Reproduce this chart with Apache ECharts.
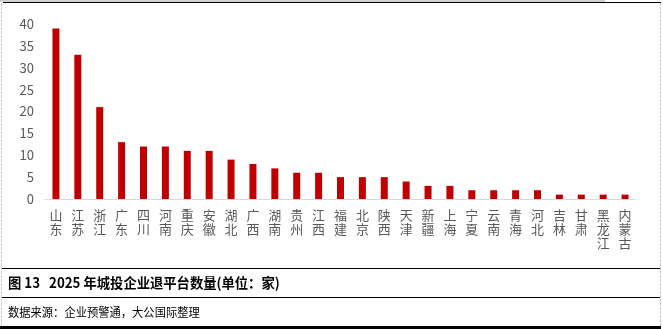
<!DOCTYPE html>
<html>
<head>
<meta charset="utf-8">
<script src="https://cdn.jsdelivr.net/npm/echarts@6/dist/echarts.min.js"></script>
<style>
  html, body { margin: 0; padding: 0; background: #fff; }
  #chart { width: 663px; height: 329px; }
</style>
</head>
<body>
<div id="chart"></div>
<script>
// Provinces and the number of urban-investment firms that exited platform status in 2025
const provinces = ['山东','江苏','浙江','广东','四川','河南','重庆','安徽','湖北','广西','湖南','贵州','江西','福建','北京','陕西','天津','新疆','上海','宁夏','云南','青海','河北','吉林','甘肃','黑龙江','内蒙古'];
const exitCounts = [39, 33, 21, 13, 12, 12, 11, 11, 9, 8, 7, 6, 6, 5, 5, 5, 4, 3, 3, 2, 2, 2, 2, 1, 1, 1, 1];
const yTicks = [0, 5, 10, 15, 20, 25, 30, 35, 40];

const titleText = '图 13   2025 年城投企业退平台数量(单位：家)';
const sourceText = '数据来源：企业预警通，大公国际整理';

const FONT = '"Noto Sans CJK SC", "Noto Sans", sans-serif';
const chart = echarts.init(document.getElementById('chart'), null, { renderer: 'canvas' });

chart.setOption({
  animation: false,
  backgroundColor: '#ffffff',
  grid: { left: 45, right: 27, top: 24, bottom: 130, containLabel: false },
  xAxis: {
    type: 'category',
    data: provinces,
    axisLine: { show: true, lineStyle: { color: '#d9d9d9', width: 1 } },
    axisTick: { show: false },
    axisLabel: {
      interval: 0,
      margin: 9,
      color: '#595959',
      fontFamily: FONT,
      fontSize: 13,
      lineHeight: 14,
      // stack each character vertically
      formatter: v => v.split('').join('\n')
    }
  },
  yAxis: {
    type: 'value',
    min: yTicks[0],
    max: yTicks[yTicks.length - 1],
    interval: 5,
    axisLine: { show: false },
    axisTick: { show: false },
    splitLine: { show: false },
    axisLabel: { color: '#595959', fontFamily: FONT, fontSize: 13, margin: 11 }
  },
  series: [{
    type: 'bar',
    data: exitCounts,
    barWidth: 7,
    itemStyle: { color: '#c00000' }
  }],
  graphic: [
    // frame lines
    { type: 'rect', shape: { x: 0, y: 0, width: 605, height: 2 }, style: { fill: '#d0d0d0' }, silent: true },
    { type: 'line', shape: { x1: 3, y1: 2.5, x2: 661, y2: 2.5 }, style: { stroke: '#000', lineWidth: 1 }, silent: true },
    { type: 'line', shape: { x1: 1.5, y1: 3, x2: 1.5, y2: 326 }, style: { stroke: '#c8c8c8', lineWidth: 1, lineDash: [3, 1] }, silent: true },
    { type: 'line', shape: { x1: 660.5, y1: 3, x2: 660.5, y2: 326 }, style: { stroke: '#c8c8c8', lineWidth: 1, lineDash: [3, 1] }, silent: true },
    { type: 'line', shape: { x1: 2, y1: 268.5, x2: 660, y2: 268.5 }, style: { stroke: '#000', lineWidth: 1 }, silent: true },
    { type: 'line', shape: { x1: 2, y1: 297.5, x2: 660, y2: 297.5 }, style: { stroke: '#000', lineWidth: 1 }, silent: true },
    { type: 'rect', shape: { x: 0, y: 326, width: 661, height: 3 }, style: { fill: '#000' }, silent: true },
    // caption and source, slightly condensed
    {
      type: 'text', x: 8, y: 283, scaleX: 0.95,
      style: { text: titleText, fill: '#000', font: 'bold 14px ' + FONT, verticalAlign: 'middle' }
    },
    {
      type: 'text', x: 8, y: 312, scaleX: 0.94,
      style: { text: sourceText, fill: '#000', font: '12px ' + FONT, verticalAlign: 'middle' }
    }
  ]
});
</script>
</body>
</html>
